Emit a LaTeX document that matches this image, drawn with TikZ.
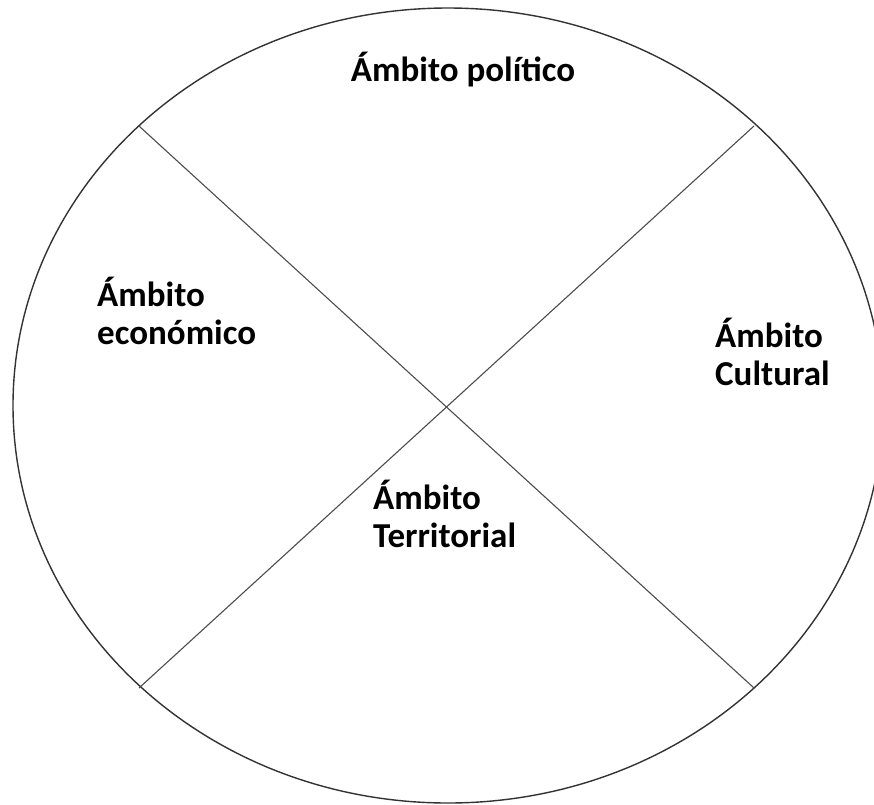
\documentclass[tikz,border=0pt]{standalone}
\usepackage{fontspec}
\setmainfont{Carlito}
\usetikzlibrary{shapes.geometric}
\begin{document}
\begin{tikzpicture}[x=1pt,y=-1pt,
  lbl/.style={font=\bfseries\fontsize{35}{38}\selectfont, inner sep=0pt, align=left},
  divider/.style={draw=black!70, line width=1.1pt},
  rim/.style={draw=black!80, line width=1.4pt}]
\useasboundingbox (0,0) rectangle (874,804);
\clip (0,0) rectangle (874,804);
\node[rim, ellipse, minimum width=870pt, minimum height=795pt, inner sep=0pt] (e) at (448,405.5) {};
\coordinate (ul) at (139,126);
\coordinate (ur) at (754,126);
\coordinate (ll) at (139,688);
\coordinate (lr) at (754,688);
\draw[divider] (ul) -- (lr);
\draw[divider] (ur) -- (ll);
\node[lbl, anchor=base] (pol) at (463,81) {Ámbito político};
\node[lbl, anchor=base west] (eco) at (97,344) {Ámbito\\económico};
\node[lbl, anchor=base west] (cul) at (715,385) {Ámbito\\Cultural};
\node[lbl, anchor=base west] (ter) at (373,547) {Ámbito\\Territorial};
\end{tikzpicture}
\end{document}
